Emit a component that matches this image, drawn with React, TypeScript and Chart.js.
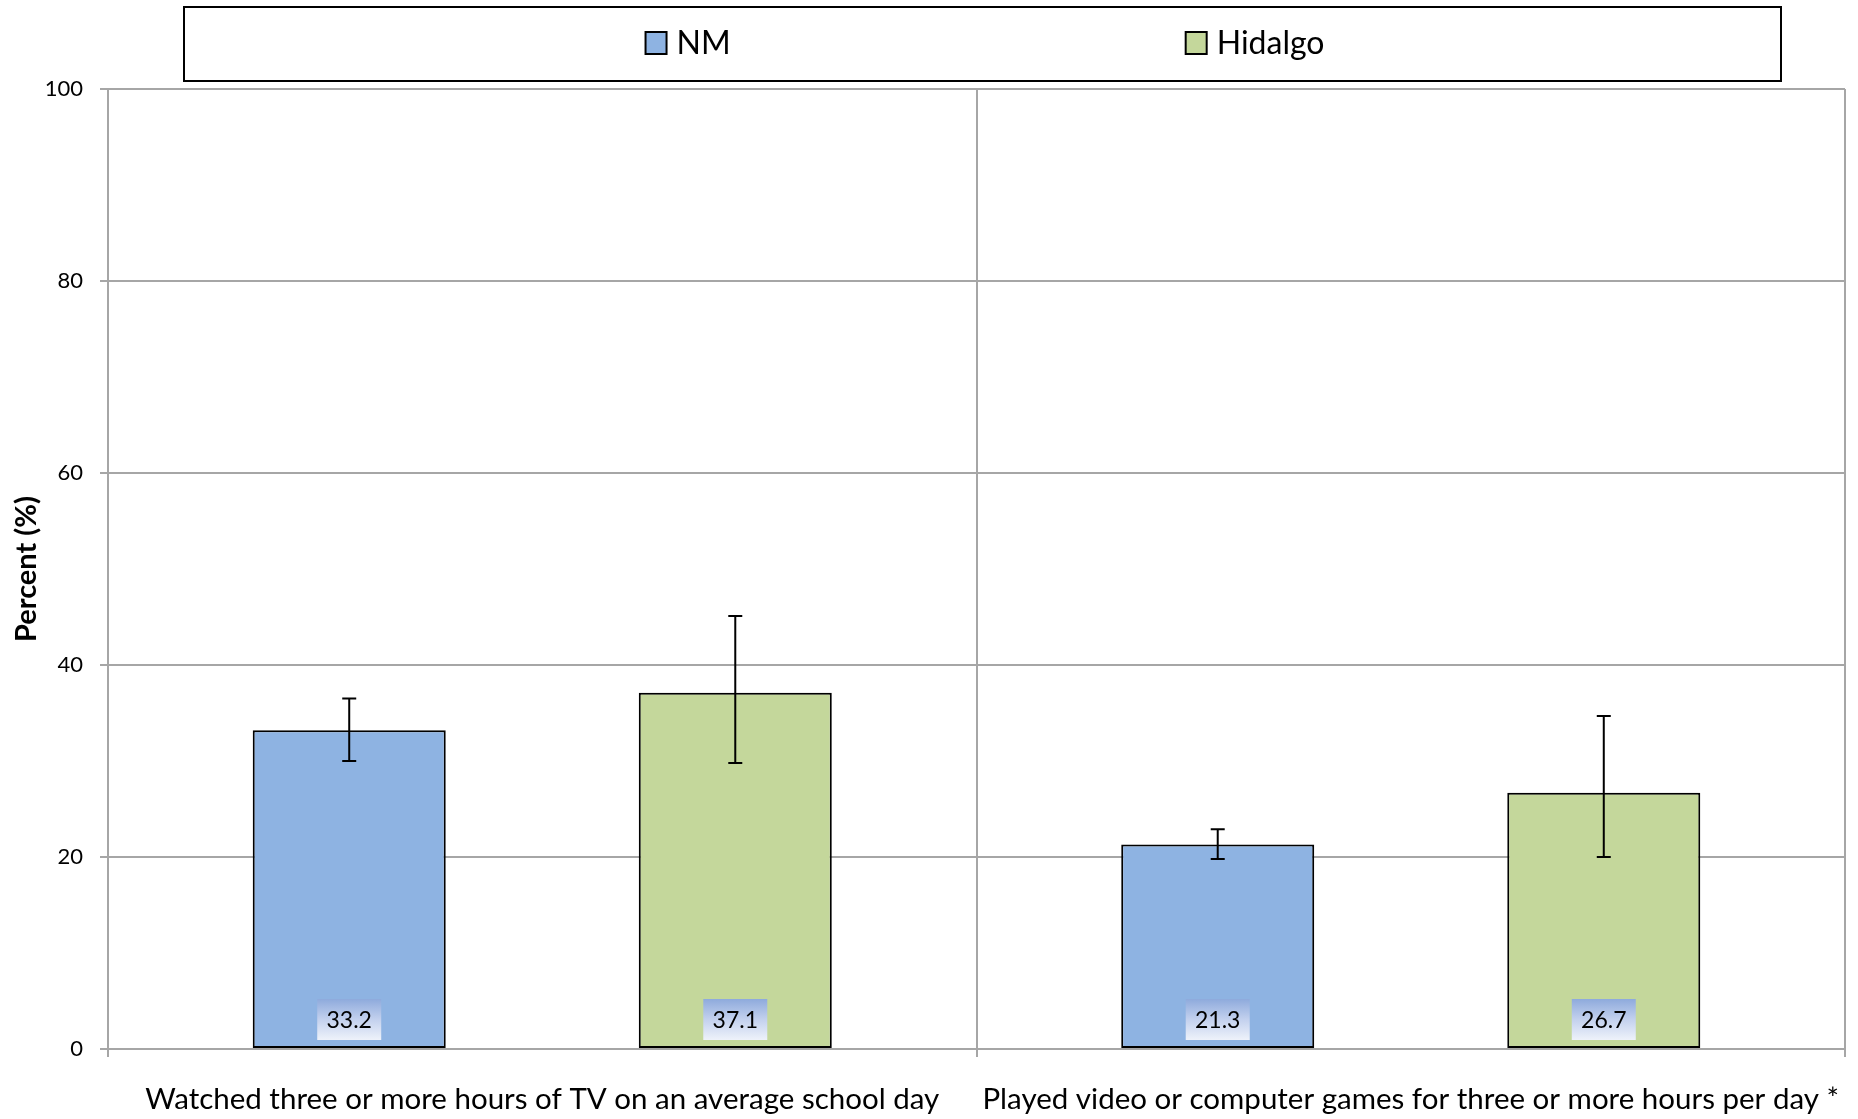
import React, { useEffect, useRef } from "react";
import { Chart, registerables } from "chart.js";

Chart.register(...registerables);

const categories = [
  "Watched three or more hours of TV on an average school day",
  "Played video or computer games for three or more hours per day *",
];
const seriesNames = ["NM", "Hidalgo"];
const nmValues = [33.2, 21.3];
const hidalgoValues = [37.1, 26.7];
const nmLower = [30.0, 19.8];
const nmUpper = [36.5, 22.9];
const hidalgoLower = [29.8, 20.0];
const hidalgoUpper = [45.1, 34.7];
const yTicks = [0, 20, 40, 60, 80, 100];
const yTitle = "Percent (%)";

const FONT = "Lato, 'Open Sans', sans-serif";
const NM_COLOR = "#8eb3e2";
const HID_COLOR = "#c4d79b";
const GRID = "#a6a6a6";

const legendPlugin = {
  id: "boxLegend",
  afterDraw(chart: any) {
    const ctx = chart.ctx as CanvasRenderingContext2D;
    ctx.save();
    ctx.strokeStyle = "#000";
    ctx.lineWidth = 2;
    ctx.strokeRect(184, 7, 1597, 74);
    ctx.font = `32px ${FONT}`;
    ctx.textBaseline = "middle";
    ctx.textAlign = "left";
    const sq = 21;
    const gapText = 10;
    const itemGap = 455;
    const items = chart.data.datasets.map((d: any) => ({
      label: d.label,
      color: d.backgroundColor,
      w: sq + gapText + ctx.measureText(d.label).width,
    }));
    const total = items.reduce((s: number, it: any) => s + it.w, 0) + itemGap * (items.length - 1);
    let x = 985 - total / 2;
    const cy = 43;
    for (const it of items) {
      ctx.fillStyle = it.color;
      ctx.fillRect(x, cy - 11, sq, 22);
      ctx.lineWidth = 2;
      ctx.strokeStyle = "#000";
      ctx.strokeRect(x, cy - 11, sq, 22);
      ctx.fillStyle = "#000";
      ctx.fillText(it.label, x + sq + gapText, cy + 1);
      x += it.w + itemGap;
    }
    ctx.restore();
  },
};

const errorBarPlugin = {
  id: "errorBars",
  afterDatasetsDraw(chart: any) {
    const ctx = chart.ctx as CanvasRenderingContext2D;
    const y = chart.scales.y;
    ctx.save();
    ctx.strokeStyle = "#000";
    ctx.lineWidth = 2;
    chart.data.datasets.forEach((ds: any, di: number) => {
      const meta = chart.getDatasetMeta(di);
      meta.data.forEach((el: any, i: number) => {
        const yl = y.getPixelForValue(ds.errLow[i]);
        const yh = y.getPixelForValue(ds.errHigh[i]);
        const cap = 7;
        ctx.beginPath();
        ctx.moveTo(el.x, yl);
        ctx.lineTo(el.x, yh);
        ctx.moveTo(el.x - cap, yl);
        ctx.lineTo(el.x + cap, yl);
        ctx.moveTo(el.x - cap, yh);
        ctx.lineTo(el.x + cap, yh);
        ctx.stroke();
      });
    });
    ctx.restore();
  },
};

const valueLabelPlugin = {
  id: "valueLabels",
  afterDatasetsDraw(chart: any) {
    const ctx = chart.ctx as CanvasRenderingContext2D;
    const base = chart.scales.y.getPixelForValue(0);
    ctx.save();
    ctx.font = `23px ${FONT}`;
    ctx.textAlign = "center";
    ctx.textBaseline = "middle";
    chart.data.datasets.forEach((ds: any, di: number) => {
      const meta = chart.getDatasetMeta(di);
      meta.data.forEach((el: any, i: number) => {
        const w = 64;
        const h = 41;
        const top = base - 9 - h;
        const g = ctx.createLinearGradient(0, top, 0, top + h);
        g.addColorStop(0, "#8eaadc");
        g.addColorStop(0.5, "#c3d1ee");
        g.addColorStop(1, "#eef2fa");
        ctx.fillStyle = g;
        ctx.fillRect(el.x - w / 2, top, w, h);
        ctx.fillStyle = "#000";
        ctx.fillText(Number(ds.data[i]).toFixed(1), el.x, top + h / 2 + 1);
      });
    });
    ctx.restore();
  },
};

export default function App() {
  const ref = useRef<HTMLCanvasElement>(null);
  useEffect(() => {
    if (!ref.current) return;
    const chart = new Chart(ref.current, {
      type: "bar",
      data: {
        labels: categories,
        datasets: [
          {
            label: seriesNames[0],
            data: nmValues,
            backgroundColor: NM_COLOR,
            borderColor: "#000",
            borderWidth: 2,
            borderSkipped: false,
            errLow: nmLower,
            errHigh: nmUpper,
          } as any,
          {
            label: seriesNames[1],
            data: hidalgoValues,
            backgroundColor: HID_COLOR,
            borderColor: "#000",
            borderWidth: 2,
            borderSkipped: false,
            errLow: hidalgoLower,
            errHigh: hidalgoUpper,
          } as any,
        ],
      },
      options: {
        animation: false,
        responsive: false,
        devicePixelRatio: 1,
        layout: { padding: { left: 0, right: 13, top: 89, bottom: 0 } },
        datasets: { bar: { categoryPercentage: 0.889, barPercentage: 0.5 } },
        plugins: {
          legend: { display: false },
          tooltip: { enabled: false },
        },
        scales: {
          x: {
            grid: { color: GRID, lineWidth: 2, tickLength: 8, offset: true },
            border: { color: GRID, width: 2 },
            ticks: { color: "#000", font: { family: FONT, size: 29.5 }, padding: 25, maxRotation: 0, autoSkip: false },
            afterFit: (s: any) => {
              s.height = 70;
              s.paddingLeft = 0;
              s.paddingRight = 0;
            },
          },
          y: {
            min: 0,
            max: 100,
            afterBuildTicks: (s: any) => {
              s.ticks = yTicks.map((v) => ({ value: v }));
            },
            grid: { color: GRID, lineWidth: 2, tickLength: 8 },
            border: { color: GRID, width: 2 },
            ticks: { color: "#000", font: { family: FONT, size: 22 }, padding: 17 },
            title: {
              display: true,
              text: yTitle,
              color: "#000",
              font: { family: FONT, size: 29, weight: "bold" },
              padding: { top: 9, bottom: 0 },
            },
            afterFit: (s: any) => {
              s.width = 108;
            },
          },
        },
      },
      plugins: [legendPlugin, errorBarPlugin, valueLabelPlugin],
    });
    return () => chart.destroy();
  }, []);
  return (
    <div style={{ position: "fixed", left: 0, top: 0, width: 1858, height: 1119, background: "#fff" }}>
      <canvas ref={ref} width={1858} height={1119} />
    </div>
  );
}
